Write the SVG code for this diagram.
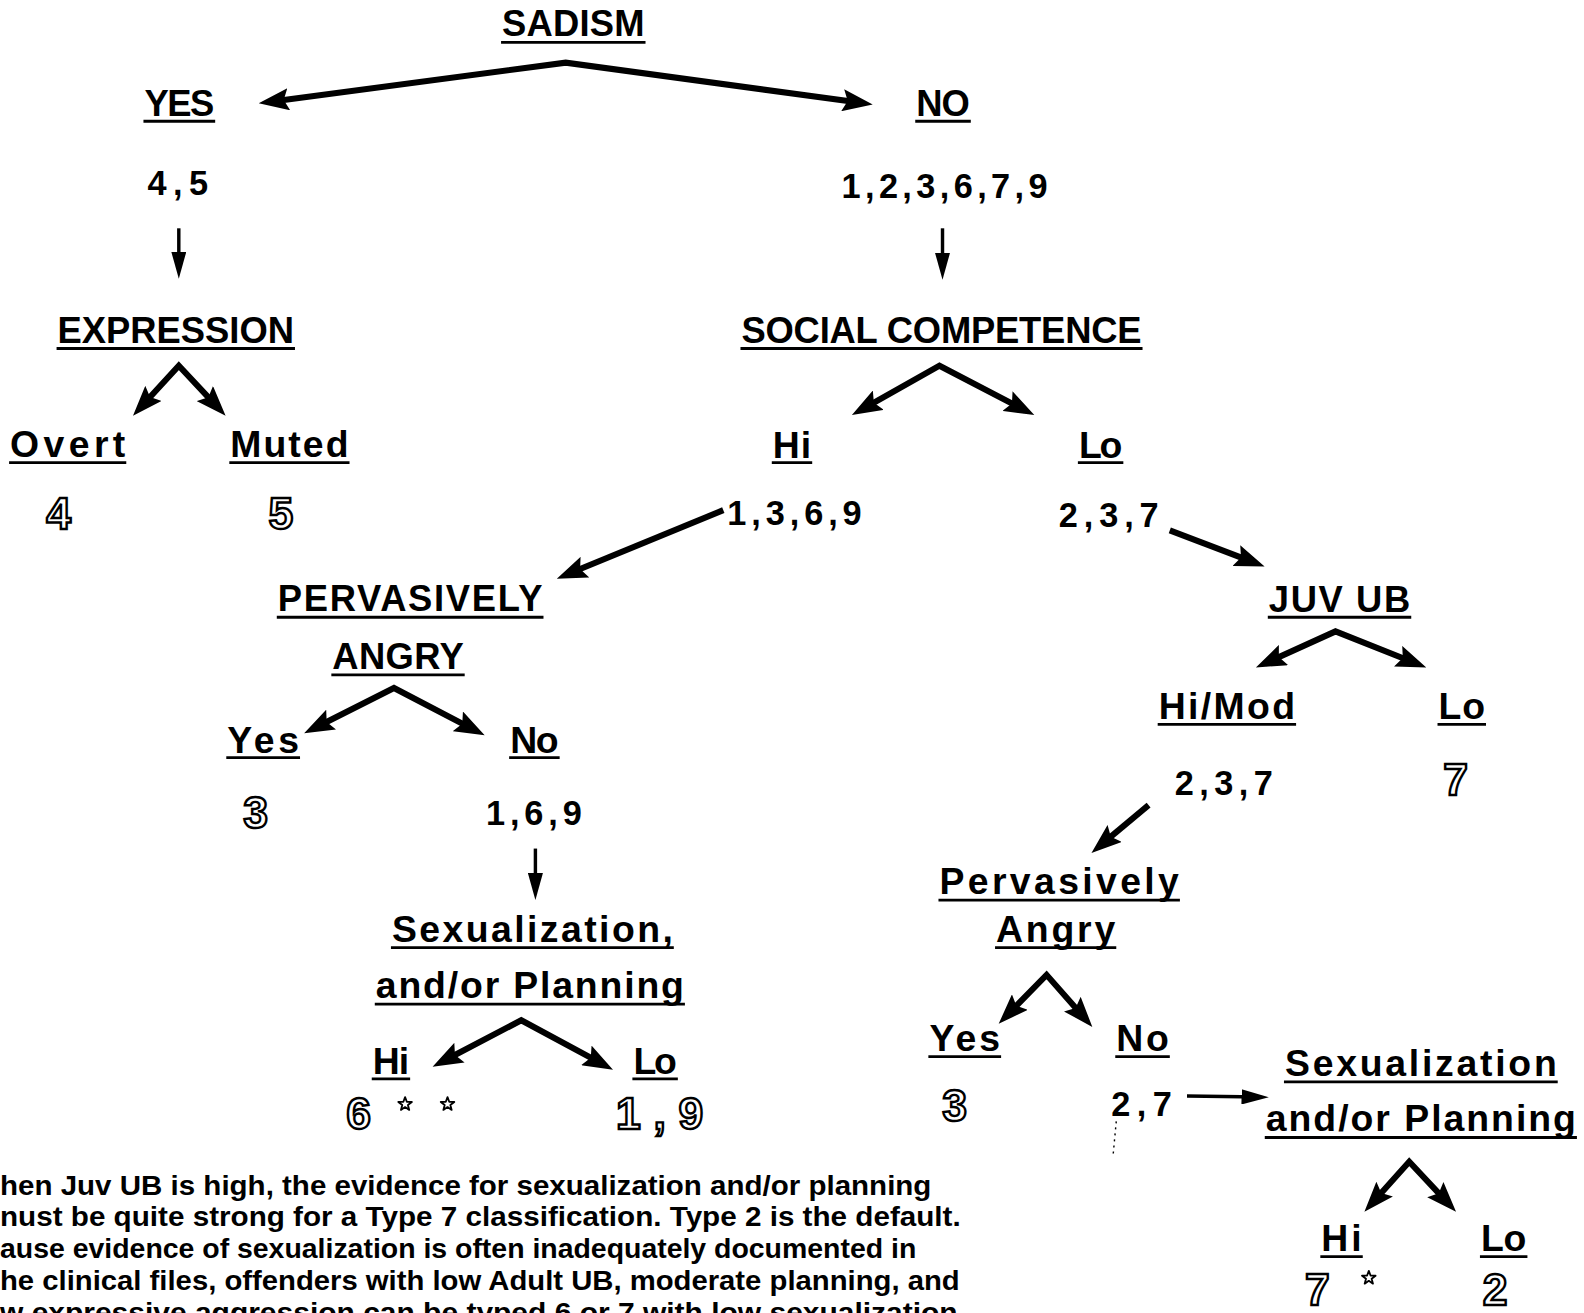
<svg xmlns="http://www.w3.org/2000/svg" width="1584" height="1313" viewBox="0 0 1584 1313">
  <style>
    .t { font-family: "Liberation Sans", Arial, sans-serif; font-weight: bold; fill: #000; }
    .h { font-size: 36px; }
    .l { font-size: 37px; }
    .n { font-size: 34px; }
    .o { font-family: "Liberation Sans", Arial, sans-serif; font-weight: bold; font-size: 44px; fill: #fff; stroke: #000; stroke-width: 2.4; text-anchor: middle; }
    .f { font-size: 27px; }
    .u { stroke: #000; stroke-width: 2.8; fill: none; }
    .a { stroke: #000; stroke-width: 6; fill: none; stroke-linejoin: miter; }
    .d { stroke: #000; stroke-width: 3.4; fill: none; }
    .star { fill: #fff; stroke: #000; stroke-width: 1.8; stroke-linejoin: round; }
  </style>
  <defs>
    <marker id="ah" markerUnits="userSpaceOnUse" markerWidth="30" markerHeight="22" viewBox="0 0 30 22" refX="20" refY="11" orient="auto-start-reverse">
      <path d="M0,0 L30,11 L0,22 L5,11 z" fill="#000"/>
    </marker>
    <marker id="ahs" markerUnits="userSpaceOnUse" markerWidth="27" markerHeight="15" viewBox="0 0 27 15" refX="18" refY="7.5" orient="auto">
      <path d="M0,0 L27,7.5 L0,15 z" fill="#000"/>
    </marker>
    <path id="star" class="star" d="M0,-7 L1.7,-2.4 L6.7,-2.2 L2.8,0.9 L4.1,5.7 L0,2.9 L-4.1,5.7 L-2.8,0.9 L-6.7,-2.2 L-1.7,-2.4 z"/>
  </defs>

  <rect width="1584" height="1313" fill="#fff"/>

  <g transform="scale(1.0102)">
    <!-- connectors -->
    <g id="connectors">
      <polyline class="a" points="266,101 560,62 854,102" marker-start="url(#ah)" marker-end="url(#ah)"/>
      <line class="d" x1="177" y1="226" x2="177" y2="267" marker-end="url(#ahs)"/>
      <line class="d" x1="933" y1="226" x2="933" y2="268" marker-end="url(#ahs)"/>
      <polyline class="a" points="138.4,404.1 177,362 216.5,404.2" marker-start="url(#ah)" marker-end="url(#ah)"/>
      <polyline class="a" points="852,406 930,362 1015,406.3" marker-start="url(#ah)" marker-end="url(#ah)"/>
      <line class="a" x1="716" y1="505" x2="560.4" y2="569" marker-end="url(#ah)"/>
      <line class="a" x1="1158" y1="525" x2="1242.5" y2="557.2" marker-end="url(#ah)"/>
      <polyline class="a" points="1252.3,656.7 1322,625 1402.6,657" marker-start="url(#ah)" marker-end="url(#ah)"/>
      <polyline class="a" points="310,721.4 390,681 470.9,723.3" marker-start="url(#ah)" marker-end="url(#ah)"/>
      <line class="a" x1="1137" y1="797" x2="1088.1" y2="837.9" marker-end="url(#ah)"/>
      <line class="d" x1="530" y1="840" x2="530" y2="882" marker-end="url(#ahs)"/>
      <polyline class="a" points="995.6,1006.3 1036,965 1074.7,1009" marker-start="url(#ah)" marker-end="url(#ah)"/>
      <polyline class="a" points="437.1,1051.3 516,1010 598,1054.2" marker-start="url(#ah)" marker-end="url(#ah)"/>
      <line class="d" x1="1175" y1="1085" x2="1247" y2="1086" marker-end="url(#ahs)"/>
      <polyline class="a" points="1357.3,1192 1395,1150 1434.5,1192.2" marker-start="url(#ah)" marker-end="url(#ah)"/>
      <line x1="1105" y1="1110" x2="1102" y2="1142" stroke="#000" stroke-width="1.4" stroke-dasharray="2 4"/>
    </g>

    <!-- level 0 -->
    <g id="n-sadism">
      <text class="t h" x="497" y="36" textLength="141">SADISM</text>
      <line class="u" x1="496" y1="42" x2="639" y2="42"/>
    </g>

    <!-- level 1 -->
    <g id="n-yes">
      <text class="t h" x="143" y="115" textLength="69">YES</text>
      <line class="u" x1="142" y1="120" x2="213" y2="120"/>
    </g>
    <g id="n-yes-types"><text class="t n" x="146" y="193" textLength="60">4,5</text></g>
    <g id="n-no">
      <text class="t h" x="907" y="115" textLength="53">NO</text>
      <line class="u" x1="906" y1="120" x2="961" y2="120"/>
    </g>
    <g id="n-no-types"><text class="t n" x="833" y="196" textLength="204">1,2,3,6,7,9</text></g>

    <!-- expression branch -->
    <g id="n-expression">
      <text class="t h" x="57" y="340" textLength="234">EXPRESSION</text>
      <line class="u" x1="56" y1="345" x2="292" y2="345"/>
    </g>
    <g id="n-overt">
      <text class="t l" x="10" y="452" textLength="114">Overt</text>
      <line class="u" x1="9" y1="458" x2="125" y2="458"/>
      <text class="o" x="58" y="524">4</text>
    </g>
    <g id="n-muted">
      <text class="t l" x="228" y="452" textLength="117">Muted</text>
      <line class="u" x1="227" y1="458" x2="346" y2="458"/>
      <text class="o" x="278" y="524">5</text>
    </g>

    <!-- social competence branch -->
    <g id="n-social">
      <text class="t h" x="734" y="340" textLength="396">SOCIAL COMPETENCE</text>
      <line class="u" x1="733" y1="345" x2="1131" y2="345"/>
    </g>
    <g id="n-sc-hi">
      <text class="t l" x="765" y="453" textLength="38">Hi</text>
      <line class="u" x1="764" y1="458" x2="804" y2="458"/>
      <text class="t n" x="720" y="520" textLength="133">1,3,6,9</text>
    </g>
    <g id="n-sc-lo">
      <text class="t l" x="1068" y="453" textLength="43">Lo</text>
      <line class="u" x1="1067" y1="458" x2="1112" y2="458"/>
      <text class="t n" x="1048" y="522" textLength="99">2,3,7</text>
    </g>

    <!-- pervasively angry (high competence) -->
    <g id="n-pa-left">
      <text class="t h" x="275" y="605" textLength="262">PERVASIVELY</text>
      <line class="u" x1="274" y1="611" x2="538" y2="611"/>
      <text class="t h" x="329" y="662" textLength="130">ANGRY</text>
      <line class="u" x1="328" y1="668" x2="460" y2="668"/>
    </g>
    <g id="n-pa-left-yes">
      <text class="t l" x="225" y="745" textLength="71">Yes</text>
      <line class="u" x1="224" y1="750" x2="297" y2="750"/>
      <text class="o" x="253" y="820">3</text>
    </g>
    <g id="n-pa-left-no">
      <text class="t l" x="505" y="745" textLength="48">No</text>
      <line class="u" x1="504" y1="750" x2="554" y2="750"/>
      <text class="t n" x="481" y="817" textLength="95">1,6,9</text>
    </g>

    <!-- sexualization (left) -->
    <g id="n-sex-left">
      <text class="t l" x="388" y="932" textLength="278">Sexualization,</text>
      <line class="u" x1="387" y1="938" x2="667" y2="938"/>
      <text class="t l" x="372" y="988" textLength="305">and/or  Planning</text>
      <line class="u" x1="371" y1="994" x2="678" y2="994"/>
    </g>
    <g id="n-sex-left-hi">
      <text class="t l" x="369" y="1063" textLength="36">Hi</text>
      <line class="u" x1="368" y1="1068" x2="406" y2="1068"/>
      <text class="o" x="355" y="1118">6</text>
      <use href="#star" x="401" y="1093"/>
      <use href="#star" x="443" y="1093"/>
    </g>
    <g id="n-sex-left-lo">
      <text class="t l" x="627" y="1063" textLength="43">Lo</text>
      <line class="u" x1="626" y1="1068" x2="671" y2="1068"/>
      <text class="o" x="622" y="1118">1</text>
      <text class="o" x="653" y="1118">,</text>
      <text class="o" x="684" y="1118">9</text>
    </g>

    <!-- juvenile unsocialized behaviour -->
    <g id="n-juvub">
      <text class="t h" x="1256" y="606" textLength="140">JUV UB</text>
      <line class="u" x1="1255" y1="611" x2="1397" y2="611"/>
    </g>
    <g id="n-juvub-hi">
      <text class="t l" x="1147" y="712" textLength="135">Hi/Mod</text>
      <line class="u" x1="1146" y1="717" x2="1283" y2="717"/>
      <text class="t n" x="1163" y="787" textLength="97">2,3,7</text>
    </g>
    <g id="n-juvub-lo">
      <text class="t l" x="1424" y="712" textLength="46">Lo</text>
      <line class="u" x1="1423" y1="717" x2="1471" y2="717"/>
      <text class="o" x="1441" y="787">7</text>
    </g>

    <!-- pervasively angry (low competence) -->
    <g id="n-pa-right">
      <text class="t l" x="930" y="885" textLength="237">Pervasively</text>
      <line class="u" x1="929" y1="891" x2="1168" y2="891"/>
      <text class="t l" x="986" y="932" textLength="118">Angry</text>
      <line class="u" x1="985" y1="938" x2="1105" y2="938"/>
    </g>
    <g id="n-pa-right-yes">
      <text class="t l" x="920" y="1040" textLength="70">Yes</text>
      <line class="u" x1="919" y1="1046" x2="991" y2="1046"/>
      <text class="o" x="945" y="1110">3</text>
    </g>
    <g id="n-pa-right-no">
      <text class="t l" x="1105" y="1040" textLength="52">No</text>
      <line class="u" x1="1104" y1="1046" x2="1158" y2="1046"/>
      <text class="t n" x="1100" y="1105" textLength="60">2,7</text>
    </g>

    <!-- sexualization (right) -->
    <g id="n-sex-right">
      <text class="t l" x="1272" y="1065" textLength="269">Sexualization</text>
      <line class="u" x1="1271" y1="1071" x2="1542" y2="1071"/>
      <text class="t l" x="1253" y="1120" textLength="307">and/or  Planning</text>
      <line class="u" x1="1252" y1="1126" x2="1561" y2="1126"/>
    </g>
    <g id="n-sex-right-hi">
      <text class="t l" x="1308" y="1238" textLength="40">Hi</text>
      <line class="u" x1="1307" y1="1244" x2="1349" y2="1244"/>
      <text class="o" x="1304" y="1292">7</text>
      <use href="#star" x="1355" y="1265"/>
    </g>
    <g id="n-sex-right-lo">
      <text class="t l" x="1466" y="1238" textLength="45">Lo</text>
      <line class="u" x1="1465" y1="1244" x2="1512" y2="1244"/>
      <text class="o" x="1480" y="1292">2</text>
    </g>

    <!-- footnote (runs off the lower edge of the page) -->
    <g id="footnote" class="t f">
      <text x="0" y="1183" textLength="922" lengthAdjust="spacingAndGlyphs">hen Juv UB is high, the evidence for sexualization and/or planning</text>
      <text x="0" y="1214" textLength="951" lengthAdjust="spacingAndGlyphs">nust be quite strong for a Type 7 classification.  Type 2 is the default.</text>
      <text x="0" y="1245" textLength="907" lengthAdjust="spacingAndGlyphs">ause evidence of sexualization is often inadequately documented in</text>
      <text x="0" y="1277" textLength="950" lengthAdjust="spacingAndGlyphs">he clinical files, offenders with low Adult UB, moderate planning, and</text>
      <text x="0" y="1309" textLength="948" lengthAdjust="spacingAndGlyphs">w expressive aggression can be typed 6 or 7 with low sexualization</text>
    </g>
  </g>
</svg>
